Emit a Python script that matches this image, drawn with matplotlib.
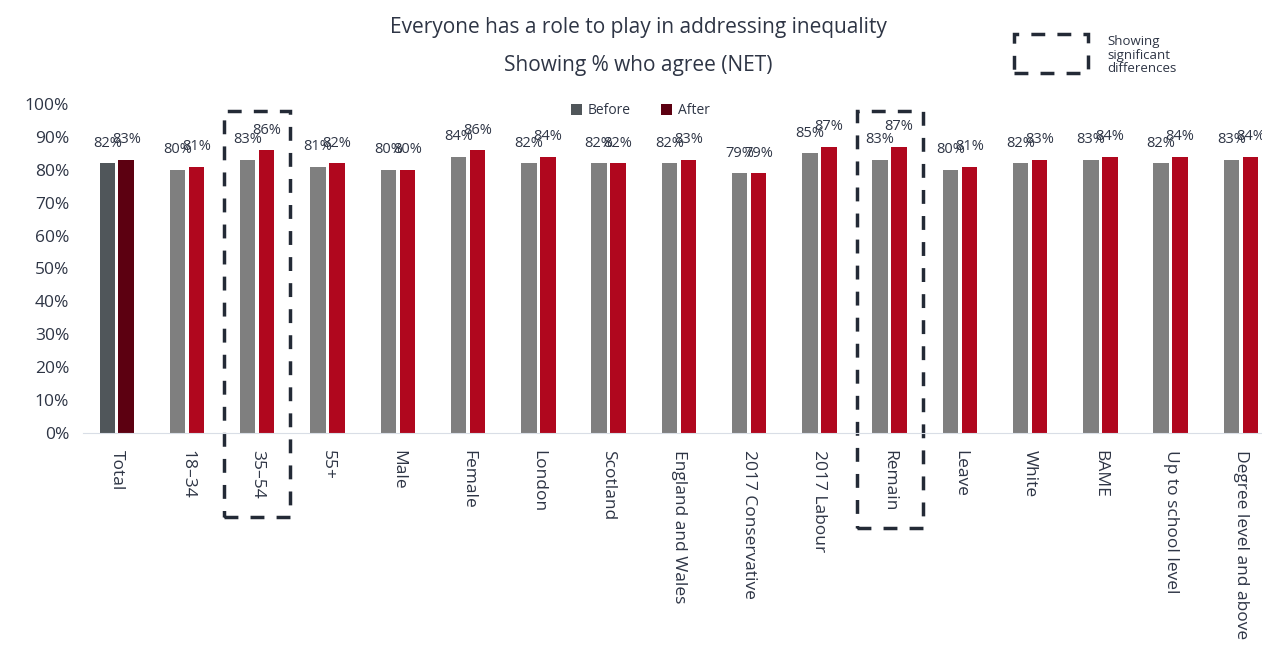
import matplotlib.pyplot as plt
import numpy as np
from matplotlib.patches import Rectangle

categories = ["Total", "18–34", "35–54", "55+", "Male", "Female", "London",
              "Scotland", "England and Wales", "2017 Conservative", "2017 Labour",
              "Remain", "Leave", "White", "BAME", "Up to school level",
              "Degree level and above"]
before = [82, 80, 83, 81, 80, 84, 82, 82, 82, 79, 85, 83, 80, 82, 83, 82, 83]
after = [83, 81, 86, 82, 80, 86, 84, 82, 83, 79, 87, 87, 81, 83, 84, 84, 84]
significant = ["35–54", "Remain"]

text_col = "#2e3545"
grey, red = "#7f7f7f", "#b0071e"
total_grey, total_red = "#50565a", "#5c0011"

plt.rcParams["font.family"] = ["Open Sans", "DejaVu Sans"]
fig = plt.figure(figsize=(12.62, 6.66), dpi=100)
ax = fig.add_axes([83 / 1262, 1 - 433 / 666, 1 - 83 / 1262, (433 - 104) / 666])

x = np.arange(len(categories))
w = 0.22
off = 0.135
bcols = [total_grey] + [grey] * (len(x) - 1)
acols = [total_red] + [red] * (len(x) - 1)
b1 = ax.bar(x - off, before, w, color=bcols, label="Before")
b2 = ax.bar(x + off, after, w, color=acols, label="After")

for bars, vals in ((b1, before), (b2, after)):
    for bar, v in zip(bars, vals):
        ax.annotate(f"{v}%", (bar.get_x() + bar.get_width() / 2, v),
                    xytext=(0, 9), textcoords="offset points",
                    ha="center", va="bottom", fontsize=10.5, color=text_col)

ax.set_ylim(0, 100)
ax.set_xlim(-0.48, 16.3)
ax.set_yticks(range(0, 101, 10))
ax.set_yticklabels([f"{t}%" for t in range(0, 101, 10)], fontsize=12.5, color=text_col)
ax.set_xticks(x)
ax.set_xticklabels(categories, rotation=270, fontsize=12.5, color=text_col)
ax.tick_params(length=0, pad=10)
ax.tick_params(axis="x", pad=12)
for s in ["top", "right", "left"]:
    ax.spines[s].set_visible(False)
ax.spines["bottom"].set_color("#d9dee6")

# dashed boxes around groups with significant differences
for name in significant:
    i = categories.index(name)
    bottom = -25.5 if name == "35–54" else -29
    ax.add_patch(Rectangle((i - 0.47, bottom), 0.94, 97.9 - bottom, fill=False,
                           ls=(0, (4, 3.5)), lw=2.5, ec="#232a36", clip_on=False))

leg = fig.legend(handles=[b1, b2], labels=["Before", "After"], loc="center",
                 bbox_to_anchor=(640 / 1262, 1 - 111 / 666), ncol=2, frameon=False,
                 fontsize=10, handlelength=0.8, handleheight=0.8, columnspacing=2.2,
                 handletextpad=0.4)
for t in leg.get_texts():
    t.set_color(text_col)

fig.text(638 / 1262, 1 - 27 / 666, "Everyone has a role to play in addressing inequality",
         ha="center", va="center", fontsize=15, color=text_col)
fig.text(638 / 1262, 1 - 66 / 666, "Showing % who agree (NET)",
         ha="center", va="center", fontsize=15, color=text_col)

# key for the dashed boxes
fig.add_artist(Rectangle((1014 / 1262, 1 - 73 / 666), 74 / 1262, 39 / 666, fill=False,
                         ls=(0, (4, 3.5)), lw=2.5, ec="#232a36",
                         transform=fig.transFigure))
fig.text(1107 / 1262, 1 - 55 / 666, "Showing\nsignificant\ndifferences",
         ha="left", va="center", fontsize=9.5, color=text_col, linespacing=1.1)

fig.savefig("out.png", dpi=100)
